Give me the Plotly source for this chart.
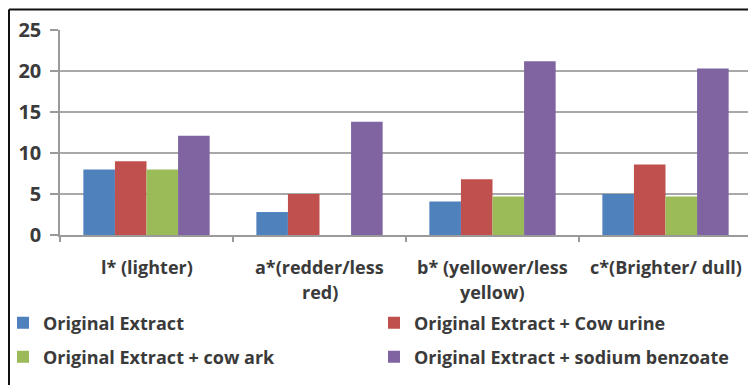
import plotly.graph_objects as go

categories = ["l* (lighter)", "a*(redder/less red)", "b* (yellower/less yellow)", "c*(Brighter/ dull)"]
label_line1 = ["l* (lighter)", "a*(redder/less", "b* (yellower/less", "c*(Brighter/ dull)"]
label_line2 = ["", "red)", "yellow)", ""]

series_names = [
    "Original Extract",
    "Original Extract + Cow urine",
    "Original Extract + cow ark",
    "Original Extract + sodium benzoate",
]
original_extract = [8.0, 2.8, 4.1, 5.0]
cow_urine = [9.0, 5.0, 6.8, 8.6]
cow_ark = [8.0, 0.0, 4.7, 4.7]
sodium_benzoate = [12.1, 13.8, 21.2, 20.3]
y_ticks = [0, 5, 10, 15, 20, 25]

colors = ["#4F81BD", "#C0504D", "#9BBB59", "#8064A2"]
values = [original_extract, cow_urine, cow_ark, sodium_benzoate]
legends = ["legend", "legend", "legend2", "legend2"]

# page body has an 8px margin; figure is sized to fill the rest of the window
OFF = 8
W, H = 756 - OFF, 385 - OFF
# plot area in page pixels: x 60..752, y 30..235
ML, MT = 60 - OFF, 30 - OFF
MR = W - (752 - OFF)
MB = H - (235 - OFF)
PW, PH = W - ML - MR, H - MT - MB

def px_x(x):  # page px -> paper
    return (x - OFF - ML) / PW

def px_y(y):  # page px -> paper
    return (H - MB - (y - OFF)) / PH

FONT = "Open Sans"
TXT = "#3a3a3a"

fig = go.Figure()
for name, vals, col, lg in zip(series_names, values, colors, legends):
    fig.add_trace(go.Bar(x=categories, y=vals, name=name, marker=dict(color=col, line=dict(width=0)),
                         legend=lg))

annotations = []
for cat, l1, l2 in zip(categories, label_line1, label_line2):
    annotations.append(dict(x=cat, xref="x", y=px_y(267), yref="paper", text=l1, showarrow=False,
                            font=dict(family=FONT, size=18, color=TXT, weight="bold"),
                            xanchor="center", yanchor="middle"))
    if l2:
        annotations.append(dict(x=cat, xref="x", y=px_y(292), yref="paper", text=l2, showarrow=False,
                                font=dict(family=FONT, size=18, color=TXT, weight="bold"),
                                xanchor="center", yanchor="middle"))

shapes = [
    dict(type="line", xref="paper", yref="paper", x0=px_x(9), x1=px_x(770), y0=px_y(9.5), y1=px_y(9.5),
         line=dict(color="#111111", width=2)),
    dict(type="line", xref="paper", yref="paper", x0=px_x(9), x1=px_x(9), y0=px_y(9.5), y1=px_y(400),
         line=dict(color="#111111", width=2)),
]

legend_common = dict(orientation="h", xanchor="left", yanchor="middle", bgcolor="rgba(0,0,0,0)",
                     font=dict(family=FONT, size=18, color=TXT, weight="bold"),
                     entrywidth=326, entrywidthmode="pixels", itemwidth=30, borderwidth=0)

fig.update_layout(
    width=W, height=H,
    margin=dict(l=ML, r=MR, t=MT, b=MB, autoexpand=False),
    paper_bgcolor="white", plot_bgcolor="white",
    barmode="group", bargap=0.27, bargroupgap=0,
    showlegend=True,
    legend=dict(x=px_x(3), y=px_y(323), **legend_common),
    legend2=dict(x=px_x(3), y=px_y(357), **legend_common),
    annotations=annotations,
    shapes=shapes,
    xaxis=dict(showticklabels=False, showline=True, linecolor="#9a9a9a", linewidth=1.5,
               ticks="outside", tickson="boundaries", ticklen=5, tickcolor="#9a9a9a", tickwidth=1.5,
               showgrid=False),
    yaxis=dict(range=[0, 25], tickvals=y_ticks, showline=True, linecolor="#9a9a9a", linewidth=1.5,
               ticks="outside", ticklen=8, tickcolor="#9a9a9a", tickwidth=1.5,
               showgrid=True, gridcolor="#a8a8a8", gridwidth=1.5, zeroline=False,
               tickfont=dict(family=FONT, size=20, color=TXT, weight="bold"),
               ticklabelstandoff=5),
)

fig.write_html("out.html")
